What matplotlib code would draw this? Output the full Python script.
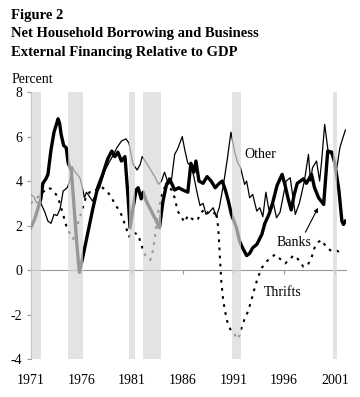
import numpy as np
import matplotlib
matplotlib.use('Agg')
import matplotlib.pyplot as plt

# Fonts: Times-like serif
plt.rcParams['font.family'] = 'Liberation Serif'

# Recession bands (year start, year end)
rec_start = [1971.0, 1974.65, 1980.67, 1982.06, 1990.84, 2000.81]
rec_end = [1972.0, 1976.13, 1981.27, 1983.83, 1991.73, 2001.2]

# Banks (thick line)
banks_x = [1971.0, 1971.4, 1971.8, 1972.0, 1972.2, 1972.5, 1972.7, 1973.0, 1973.3, 1973.5,
           1973.7, 1973.85, 1974.0, 1974.25, 1974.5, 1974.7, 1975.0, 1975.3, 1975.6, 1975.8,
           1976.1, 1976.6, 1977.1, 1977.6, 1978.1, 1978.6, 1979.0, 1979.3, 1979.6, 1979.95,
           1980.3, 1980.6, 1980.8, 1981.1, 1981.4, 1981.6, 1981.9, 1982.1, 1982.4, 1982.9,
           1983.4, 1983.7, 1984.05, 1984.4, 1984.7, 1985.2, 1985.6, 1986.0, 1986.5, 1986.8,
           1987.1, 1987.3, 1987.6, 1988.0, 1988.4, 1988.8, 1989.2, 1989.6, 1989.9, 1990.2,
           1990.5, 1990.8, 1991.3, 1991.6, 1991.9, 1992.3, 1992.6, 1992.9, 1993.3, 1993.8,
           1994.1, 1994.5, 1994.8, 1995.3, 1995.8, 1996.1, 1996.4, 1996.7, 1997.0, 1997.3,
           1997.9, 1998.2, 1998.7, 1999.0, 1999.4, 1999.9, 2000.3, 2000.7, 2001.0, 2001.4,
           2001.7, 2001.85, 2002.05]
banks_y = [1.9, 2.3, 2.9, 3.2, 3.9, 4.1, 4.3, 5.4, 6.2, 6.5,
           6.8, 6.6, 6.1, 5.6, 5.5, 4.8, 4.5, 2.7, 0.9, -0.1,
           0.5, 1.6, 2.7, 3.7, 4.3, 5.0, 5.35, 5.1, 5.3, 4.9,
           5.1, 3.3, 1.9, 2.8, 3.6, 3.7, 3.2, 3.5, 3.1, 2.65,
           2.2, 1.9, 3.1, 3.85, 4.1, 3.6, 3.7, 3.6, 3.5, 4.8,
           4.4, 4.9, 4.0, 3.9, 4.2, 4.0, 3.7, 3.9, 4.0, 3.6,
           3.1, 2.5, 1.9, 1.3, 1.0, 0.65, 0.75, 1.0, 1.15, 1.6,
           2.1, 2.5, 2.9, 3.8, 4.3, 3.8, 3.2, 2.7, 3.4, 3.9,
           4.1, 3.9, 4.3, 3.7, 3.25, 2.95, 5.35, 5.3, 4.8, 3.6,
           2.2, 2.05, 2.2]

# Other (thin line)
other_x = [1971.0, 1971.3, 1971.6, 1971.9, 1972.4, 1972.7, 1973.0, 1973.3, 1973.6, 1973.9,
           1974.2, 1974.6, 1974.85, 1975.1, 1975.3, 1975.85, 1976.1, 1976.3, 1976.5, 1976.8,
           1977.1, 1977.4, 1977.8, 1978.3, 1978.8, 1979.0, 1979.5, 1979.95, 1980.4, 1980.7,
           1980.9, 1981.1, 1981.5, 1981.8, 1982.0, 1982.5, 1982.9, 1983.3, 1983.6, 1983.9,
           1984.2, 1984.6, 1984.9, 1985.2, 1985.5, 1985.95, 1986.2, 1986.5, 1986.8, 1987.1,
           1987.4, 1987.7, 1988.0, 1988.3, 1988.6, 1989.0, 1989.3, 1989.6, 1990.0, 1990.4,
           1990.75, 1991.1, 1991.4, 1991.7, 1992.1, 1992.3, 1992.6, 1992.9, 1993.3, 1993.6,
           1993.9, 1994.2, 1994.5, 1994.9, 1995.25, 1995.6, 1996.2, 1996.6, 1997.1, 1997.5,
           1998.0, 1998.4, 1998.6, 1998.8, 1999.2, 1999.5, 1999.7, 2000.0, 2000.35, 2000.7,
           2001.2, 2001.5, 2001.8, 2002.05]
other_y = [3.4, 3.3, 3.0, 3.1, 2.6, 2.2, 2.1, 2.5, 2.45, 2.75,
           3.55, 3.7, 4.0, 4.65, 4.45, 4.15, 3.7, 3.25, 3.5, 3.3,
           3.1, 3.4, 3.7, 4.45, 4.9, 5.05, 5.5, 5.8, 5.9, 5.7,
           5.2, 4.75, 4.5, 4.75, 5.1, 4.75, 4.45, 4.15, 3.85, 4.0,
           4.4, 3.85, 4.1, 5.2, 5.45, 6.0, 5.4, 4.8, 4.7, 4.2,
           3.5, 2.9, 3.0, 2.5, 2.6, 2.8, 2.4, 2.8, 3.8, 5.0,
           6.2, 5.35, 4.85, 4.6, 3.85, 4.0, 3.25, 3.4, 2.65, 2.8,
           2.4, 3.5, 2.7, 3.1, 2.35, 2.6, 4.0, 4.15, 2.5, 3.0,
           4.0, 5.2, 4.0, 4.6, 4.9, 4.0, 4.9, 6.55, 5.3, 5.2,
           4.6, 5.5, 5.95, 6.3]

# Thrifts (dotted line)
thrifts_x = [1971.0, 1971.5, 1972.0, 1972.2, 1972.7, 1973.0, 1973.5, 1973.8, 1974.2, 1974.5,
             1974.8, 1975.2, 1975.6, 1976.0, 1976.4, 1976.8, 1977.2, 1977.8, 1978.1, 1978.6,
             1979.0, 1979.3, 1979.8, 1980.1, 1980.45, 1980.7, 1981.0, 1981.3, 1981.6, 1981.9,
             1982.25, 1982.6, 1982.8, 1983.0, 1983.25, 1983.4, 1983.6, 1983.9, 1984.2, 1984.6,
             1984.9, 1985.2, 1985.5, 1985.9, 1986.2, 1986.5, 1986.8, 1987.2, 1987.5, 1987.85,
             1988.2, 1988.6, 1989.0, 1989.3, 1989.5, 1989.65, 1989.8, 1990.0, 1990.3, 1990.5,
             1990.8, 1991.1, 1991.3, 1991.6, 1991.8, 1992.1, 1992.45, 1992.8, 1993.1, 1993.4,
             1993.8, 1994.3, 1994.7, 1995.1, 1995.6, 1996.1, 1996.5, 1996.9, 1997.2, 1997.5,
             1997.9, 1998.3, 1998.7, 1999.0, 1999.35, 1999.7, 2000.2, 2000.7, 2001.2, 2001.8]
thrifts_y = [3.0, 3.2, 3.4, 3.5, 3.7, 3.65, 3.4, 3.1, 2.5, 2.0,
             1.7, 1.4, 2.0, 2.6, 3.2, 3.5, 3.5, 3.75, 3.7, 3.5,
             3.25, 2.95, 2.65, 2.3, 1.85, 1.5, 1.7, 1.65, 1.6, 1.15,
             0.7, 0.55, 0.45, 0.75, 1.45, 2.05, 2.65, 3.35, 3.7, 3.75,
             3.6, 3.25, 2.65, 2.35, 2.15, 2.45, 2.35, 2.2, 2.3, 2.6,
             2.75, 2.5, 2.5, 2.65, 1.9, 0.7, -0.5, -1.4, -2.15, -2.5,
             -2.75, -2.85, -3.1, -2.95, -2.6, -2.2, -1.85, -1.3, -0.8, -0.35,
             0.1, 0.4, 0.55, 0.7, 0.5, 0.3, 0.45, 0.65, 0.6, 0.4,
             0.15, 0.2, 0.55, 1.0, 1.25, 1.35, 1.0, 0.85, 0.87, 0.7]

year_ticks = [1971, 1976, 1981, 1986, 1991, 1996, 2001]
pct_ticks = [-4, -2, 0, 2, 4, 6, 8]

fig = plt.figure(figsize=(3.6, 3.97), dpi=100)
ax = fig.add_axes([0.0853, 0.0957, 0.961 - 0.0853, 0.768 - 0.0957])

ax.plot(other_x, other_y, color='black', lw=0.9, zorder=3)
ax.plot(thrifts_x, thrifts_y, color='black', lw=1.5, linestyle=(0, (1.3, 2.6)),
        dash_capstyle='butt', zorder=3)
ax.plot(banks_x, banks_y, color='black', lw=2.4, zorder=4)

# shaded recessions drawn over the lines
for s, e in zip(rec_start, rec_end):
    ax.axvspan(s, e, color='#d8d8d8', alpha=0.7, lw=0, zorder=5)

ax.set_xlim(1971, 2002.1)
ax.set_ylim(-4, 8)

gray = '#9a9a9a'
for side in ['top', 'right']:
    ax.spines[side].set_visible(False)
ax.spines['left'].set_color(gray)
ax.spines['bottom'].set_color(gray)
ax.spines['bottom'].set_position(('data', 0))

ax.set_yticks(pct_ticks)
ax.set_yticklabels([str(v) for v in pct_ticks], fontsize=10)
ax.tick_params(axis='y', direction='out', length=3, color=gray, pad=3)

ax.set_xticks(year_ticks)
ax.set_xticklabels([str(v) for v in year_ticks], fontsize=10)
ax.tick_params(axis='x', direction='out', length=3, color=gray, pad=72)

# series labels
ax.text(1992.1, 5.05, 'Other', fontsize=10, ha='left', va='baseline', zorder=6)
ax.text(1995.25, 1.1, 'Banks', fontsize=10, ha='left', va='baseline', zorder=6)
ax.text(1993.95, -1.16, 'Thrifts', fontsize=10, ha='left', va='baseline', zorder=6)
ax.annotate('', xy=(1999.35, 2.8), xytext=(1998.1, 1.7),
            arrowprops=dict(arrowstyle='-|>', color='black', lw=0.8,
                            mutation_scale=6, shrinkA=0, shrinkB=0), zorder=6)

# title block
fig.text(0.031, 1 - 19 / 397, 'Figure 2', fontsize=10.5, fontweight='bold', va='baseline')
fig.text(0.031, 1 - 37.5 / 397, 'Net Household Borrowing and Business',
         fontsize=10.5, fontweight='bold', va='baseline')
fig.text(0.031, 1 - 56 / 397, 'External Financing Relative to GDP',
         fontsize=10.5, fontweight='bold', va='baseline')
fig.text(0.033, 1 - 83 / 397, 'Percent', fontsize=10, va='baseline')

fig.savefig('out.png', dpi=100)
